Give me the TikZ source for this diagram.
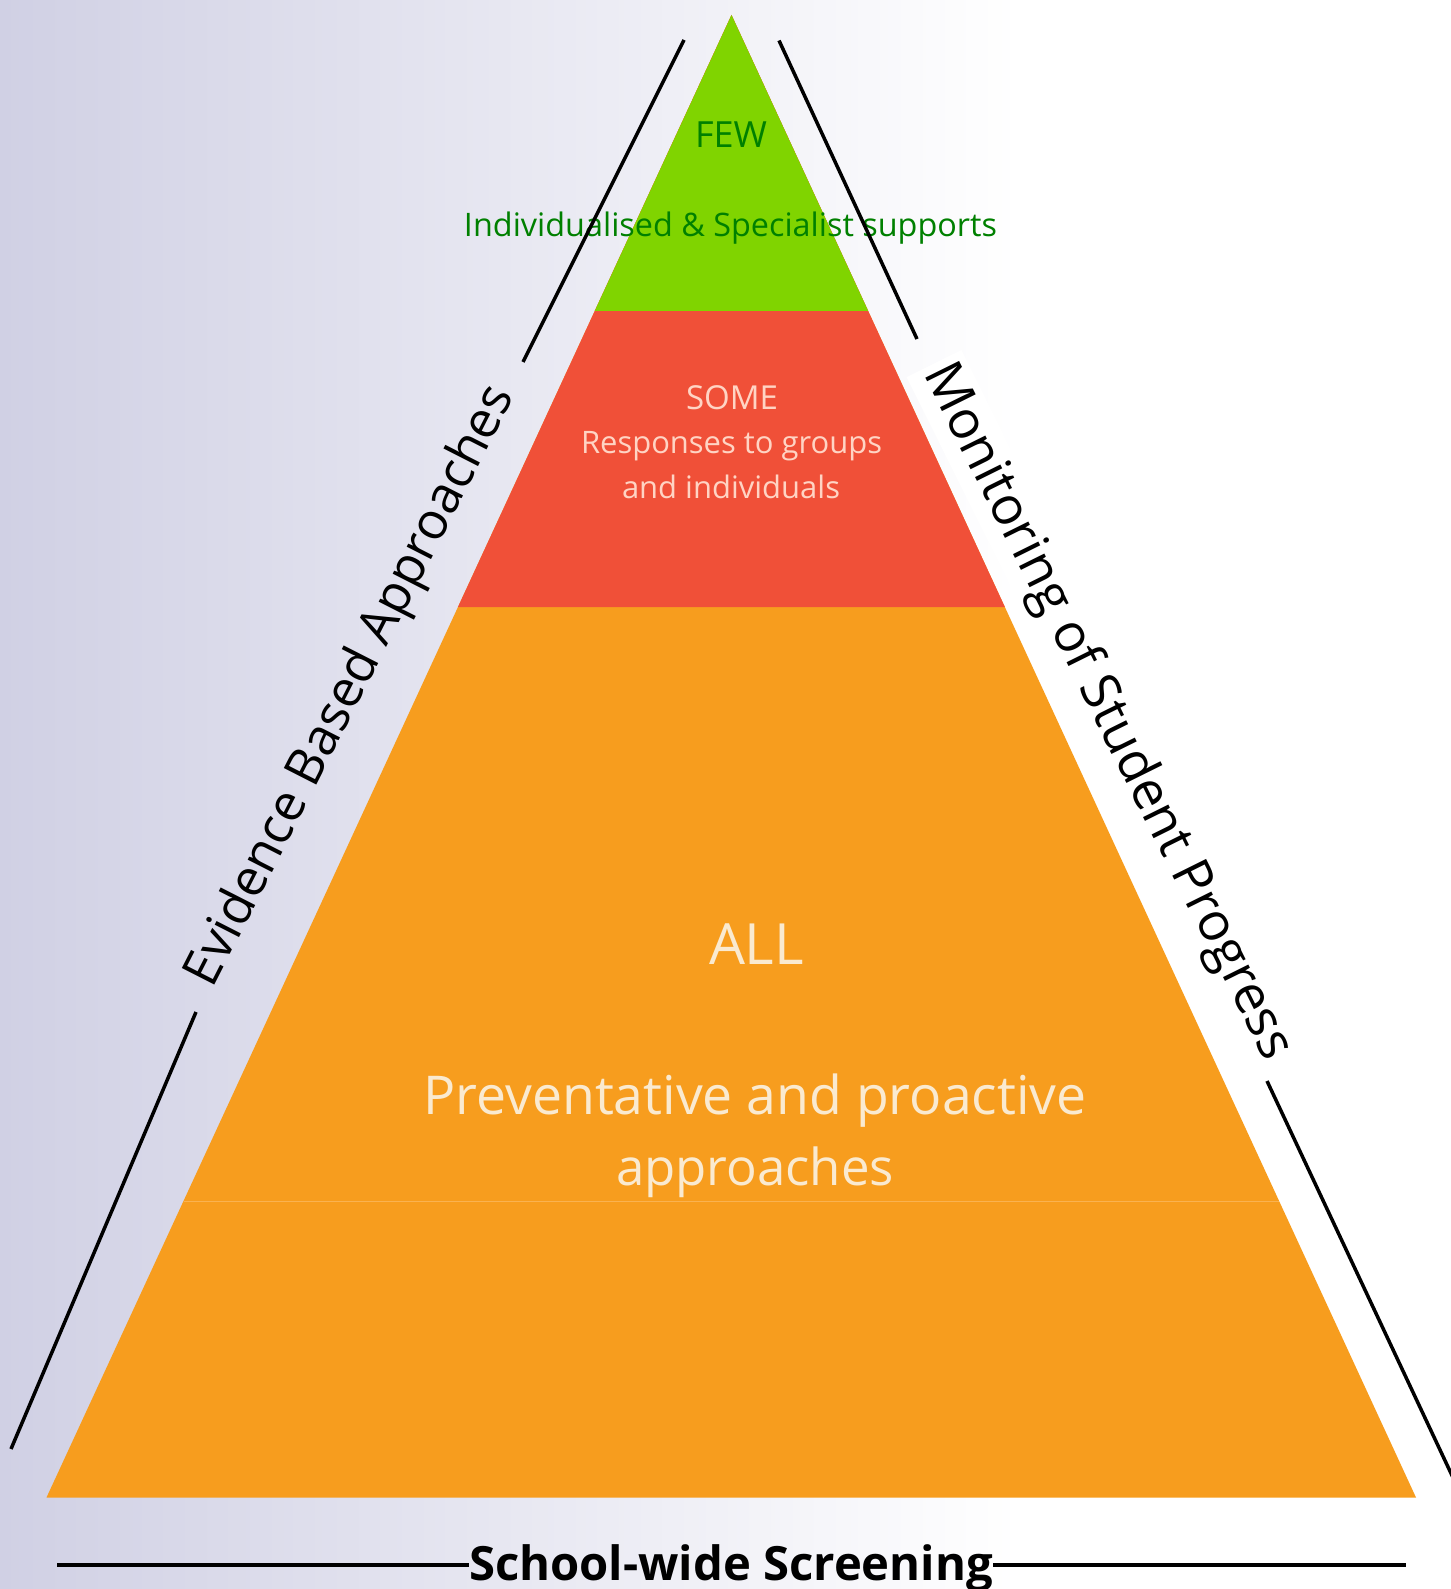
\documentclass[tikz,border=0pt]{standalone}
\usepackage{fontspec}
\setmainfont{Open Sans}
\usepackage{graphicx}
\usetikzlibrary{calc}
\definecolor{bgleft}{RGB}{208,208,228}
\definecolor{tgreen}{RGB}{128,212,0}
\definecolor{tred}{RGB}{240,80,56}
\definecolor{torange}{RGB}{247,157,30}
\definecolor{txgreen}{RGB}{0,128,0}
\definecolor{txred}{RGB}{255,212,196}
\definecolor{txorange}{RGB}{250,234,208}
\definecolor{seam}{RGB}{250,178,80}
\begin{document}
\begin{tikzpicture}[x=0.5pt,y=-0.5pt,
  lbl/.style={inner sep=0pt, anchor=base},
  side/.style={line width=1.75pt, black},
  sidelbl/.style={inner sep=1pt, anchor=center, text=black}]
\useasboundingbox (0,0) rectangle (1450,1589);
\fill[white] (0,0) rectangle (1450,1589);
\shade[left color=bgleft, right color=white] (0,0) rectangle (1020,1589);

% monitoring label (white box behind pyramid)
\node[sidelbl, fill=white, rotate=-63.6, inner sep=2pt] (mon) at (1107,712)
  {\resizebox{385pt}{!}{Monitoring of Student Progress}};

\coordinate (apex) at (731.5,15);
\coordinate (bl) at (46.5,1497.5);
\coordinate (br) at (1416,1497.5);
\coordinate (gl) at ($(apex)!0.19966!(bl)$);
\coordinate (gr) at ($(apex)!0.19966!(br)$);
\coordinate (rl) at ($(apex)!0.39933!(bl)$);
\coordinate (rr) at ($(apex)!0.39933!(br)$);
\coordinate (ol) at ($(apex)!0.8!(bl)$);
\coordinate (or) at ($(apex)!0.8!(br)$);

\fill[torange] (apex) -- (bl) -- (br) -- cycle;
\fill[tred] (apex) -- (rl) -- (rr) -- cycle;
\fill[tgreen] (apex) -- (gl) -- (gr) -- cycle;
\draw[seam, line width=0.5pt] (ol) -- (or);

% texts
\node[lbl, text=txgreen] (few) at (731,148) {\resizebox{36pt}{!}{FEW}};
\node[lbl, text=txgreen] (ind) at (730.5,236) {\resizebox{266.5pt}{!}{Individualised \& Specialist supports}};
\node[lbl, text=txred] (some) at (732,409) {\resizebox{46pt}{!}{SOME}};
\node[lbl, text=txred] (resp) at (731.5,453) {\resizebox{150.5pt}{!}{Responses to groups}};
\node[lbl, text=txred] (andi) at (731,498.5) {\resizebox{109pt}{!}{and individuals}};
\node[lbl, text=txorange] (all) at (756.5,964.5) {\resizebox{47.5pt}{!}{ALL}};
\node[lbl, text=txorange] (prev) at (755,1114.6) {\resizebox{331.5pt}{!}{Preventative and proactive}};
\node[lbl, text=txorange] (appr) at (755,1185.5) {\resizebox{139pt}{!}{approaches}};

\node[sidelbl, rotate=63] (evid) at (352,686.5)
  {\resizebox{333pt}{!}{Evidence Based Approaches}};

% side lines
\coordinate (l1a) at (684,40);
\coordinate (l1b) at (523,362);
\coordinate (l2a) at (196,1012);
\coordinate (l2b) at (11,1449);
\coordinate (r1a) at (779,40.5);
\coordinate (r1b) at (917,339);
\coordinate (r2a) at (1267,1081);
\coordinate (r2b) at (1456,1484);
\draw[side] (l1a) -- (l1b);
\draw[side] (l2a) -- (l2b);
\draw[side] (r1a) -- (r1b);
\draw[side] (r2a) -- (r2b);

% bottom
\node[lbl, inner sep=0pt, font=\bfseries] (sws) at (731,1580) {\resizebox{262pt}{!}{School-wide Screening}};
\coordinate (bla) at (57,1565);
\coordinate (brb) at (1406,1565);
\draw[line width=2pt] (bla) -- (sws.west |- bla);
\draw[line width=2pt] (sws.east |- brb) -- (brb);
\end{tikzpicture}
\end{document}
